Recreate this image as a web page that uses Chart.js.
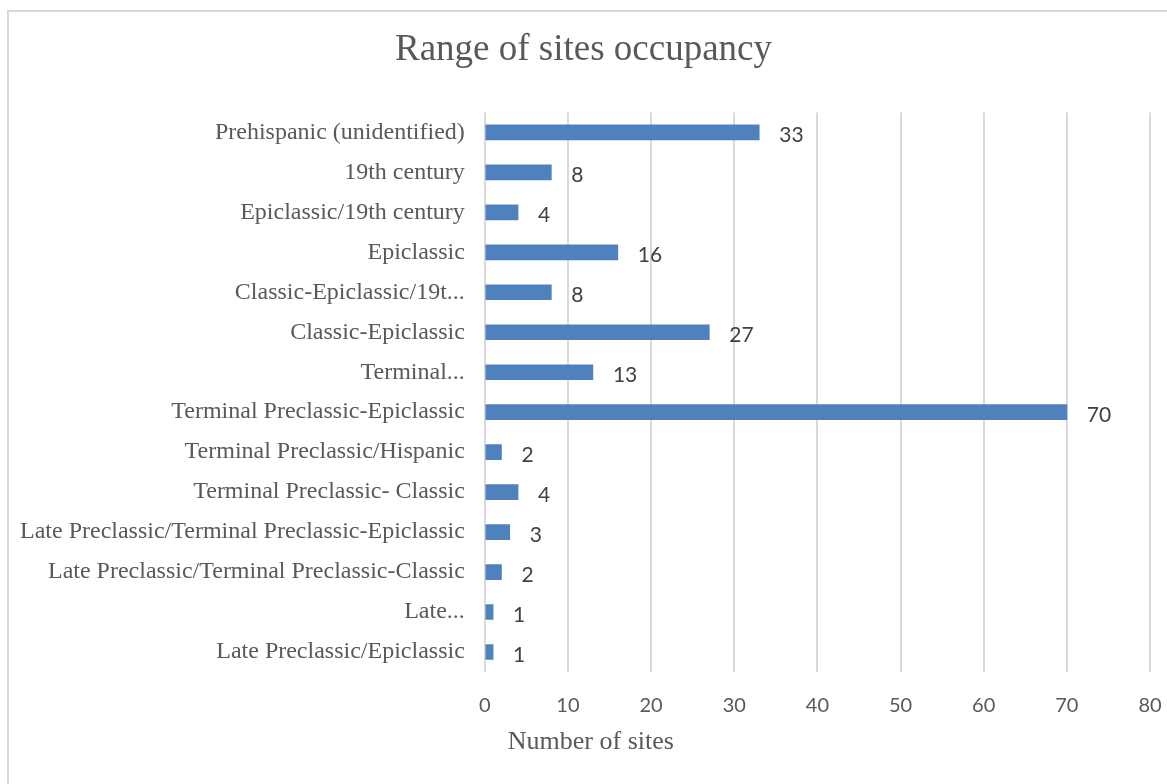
<!DOCTYPE html>
<html>
<head>
<meta charset="utf-8">
<script src="https://cdn.jsdelivr.net/npm/chart.js@4.4.1/dist/chart.umd.min.js"></script>
<style>
  html, body { margin: 0; padding: 0; background: #fff; overflow: hidden; }
  .frame {
    position: absolute; left: 7px; top: 10px; width: 1180px; height: 800px;
    border: 2px solid #d9d9d9; box-sizing: border-box;
  }
  .wrap { position: absolute; left: 0; top: 0; width: 1167px; height: 784px; }
</style>
</head>
<body>
<div class="frame"></div>
<div class="wrap"><canvas id="occ-chart"></canvas></div>
<script>
// data
const periods = [
  "Prehispanic (unidentified)",
  "19th century",
  "Epiclassic/19th century",
  "Epiclassic",
  "Classic-Epiclassic/19t...",
  "Classic-Epiclassic",
  "Terminal...",
  "Terminal Preclassic-Epiclassic",
  "Terminal Preclassic/Hispanic",
  "Terminal Preclassic- Classic",
  "Late Preclassic/Terminal Preclassic-Epiclassic",
  "Late Preclassic/Terminal Preclassic-Classic",
  "Late...",
  "Late Preclassic/Epiclassic",
];
const siteCounts = [33, 8, 4, 16, 8, 27, 13, 70, 2, 4, 3, 2, 1, 1];
const xTicks = [0, 10, 20, 30, 40, 50, 60, 70, 80];

const serif = "'Liberation Serif', 'Times New Roman', serif";

// value labels right of bars
const valueLabels = {
  id: "valueLabels",
  afterDatasetsDraw(chart) {
    const ctx = chart.ctx;
    const meta = chart.getDatasetMeta(0);
    ctx.save();
    ctx.font = "21px Lato, 'Open Sans', sans-serif";
    ctx.fillStyle = "#404040";
    ctx.textAlign = "left";
    ctx.textBaseline = "middle";
    meta.data.forEach((bar, i) => {
      ctx.fillText(String(siteCounts[i]), bar.x + 20, bar.y + 3);
    });
    ctx.restore();
  },
};

// axis title (sits left of centre in the original)
const axisTitle = {
  id: "axisTitle",
  afterDraw(chart) {
    const ctx = chart.ctx;
    ctx.save();
    ctx.font = "26px " + serif;
    ctx.fillStyle = "#595959";
    ctx.textAlign = "center";
    ctx.textBaseline = "middle";
    ctx.fillText("Number of sites", chart.chartArea.left + 106, 742);
    ctx.restore();
  },
};

const occCanvas = document.getElementById("occ-chart");

new Chart(occCanvas, {
  type: "bar",
  data: {
    labels: periods,
    datasets: [
      {
        label: "Number of sites",
        data: siteCounts,
        backgroundColor: "#4f81bd",
        borderWidth: 0,
        barThickness: 15,
      },
    ],
  },
  options: {
    indexAxis: "y",
    responsive: true,
    maintainAspectRatio: false,
    animation: false,
    layout: { padding: { left: 0, right: 0, top: 8, bottom: 44 } },
    plugins: {
      legend: { display: false },
      tooltip: { enabled: false },
      title: {
        display: true,
        text: "Range of sites occupancy",
        color: "#595959",
        font: { family: serif, size: 37, weight: "normal" },
        padding: { top: 20, bottom: 40 },
      },
    },
    scales: {
      x: {
        min: 0,
        max: 80,
        afterBuildTicks(axis) {
          axis.ticks = xTicks.map((v) => ({ value: v }));
        },
        afterFit(axis) {
          axis.paddingRight = 17;
        },
        grid: { color: "#d9d9d9", lineWidth: 2, drawTicks: false },
        border: { display: false },
        ticks: {
          color: "#595959",
          font: { family: "Lato, 'Open Sans', sans-serif", size: 20 },
          padding: 22,
        },
      },
      y: {
        grid: { display: false, drawTicks: false },
        border: { display: false },
        ticks: {
          color: "#595959",
          font: { family: serif, size: 24 },
          padding: 20,
          autoSkip: false,
        },
      },
    },
  },
  plugins: [valueLabels, axisTitle],
});
</script>
</body>
</html>
